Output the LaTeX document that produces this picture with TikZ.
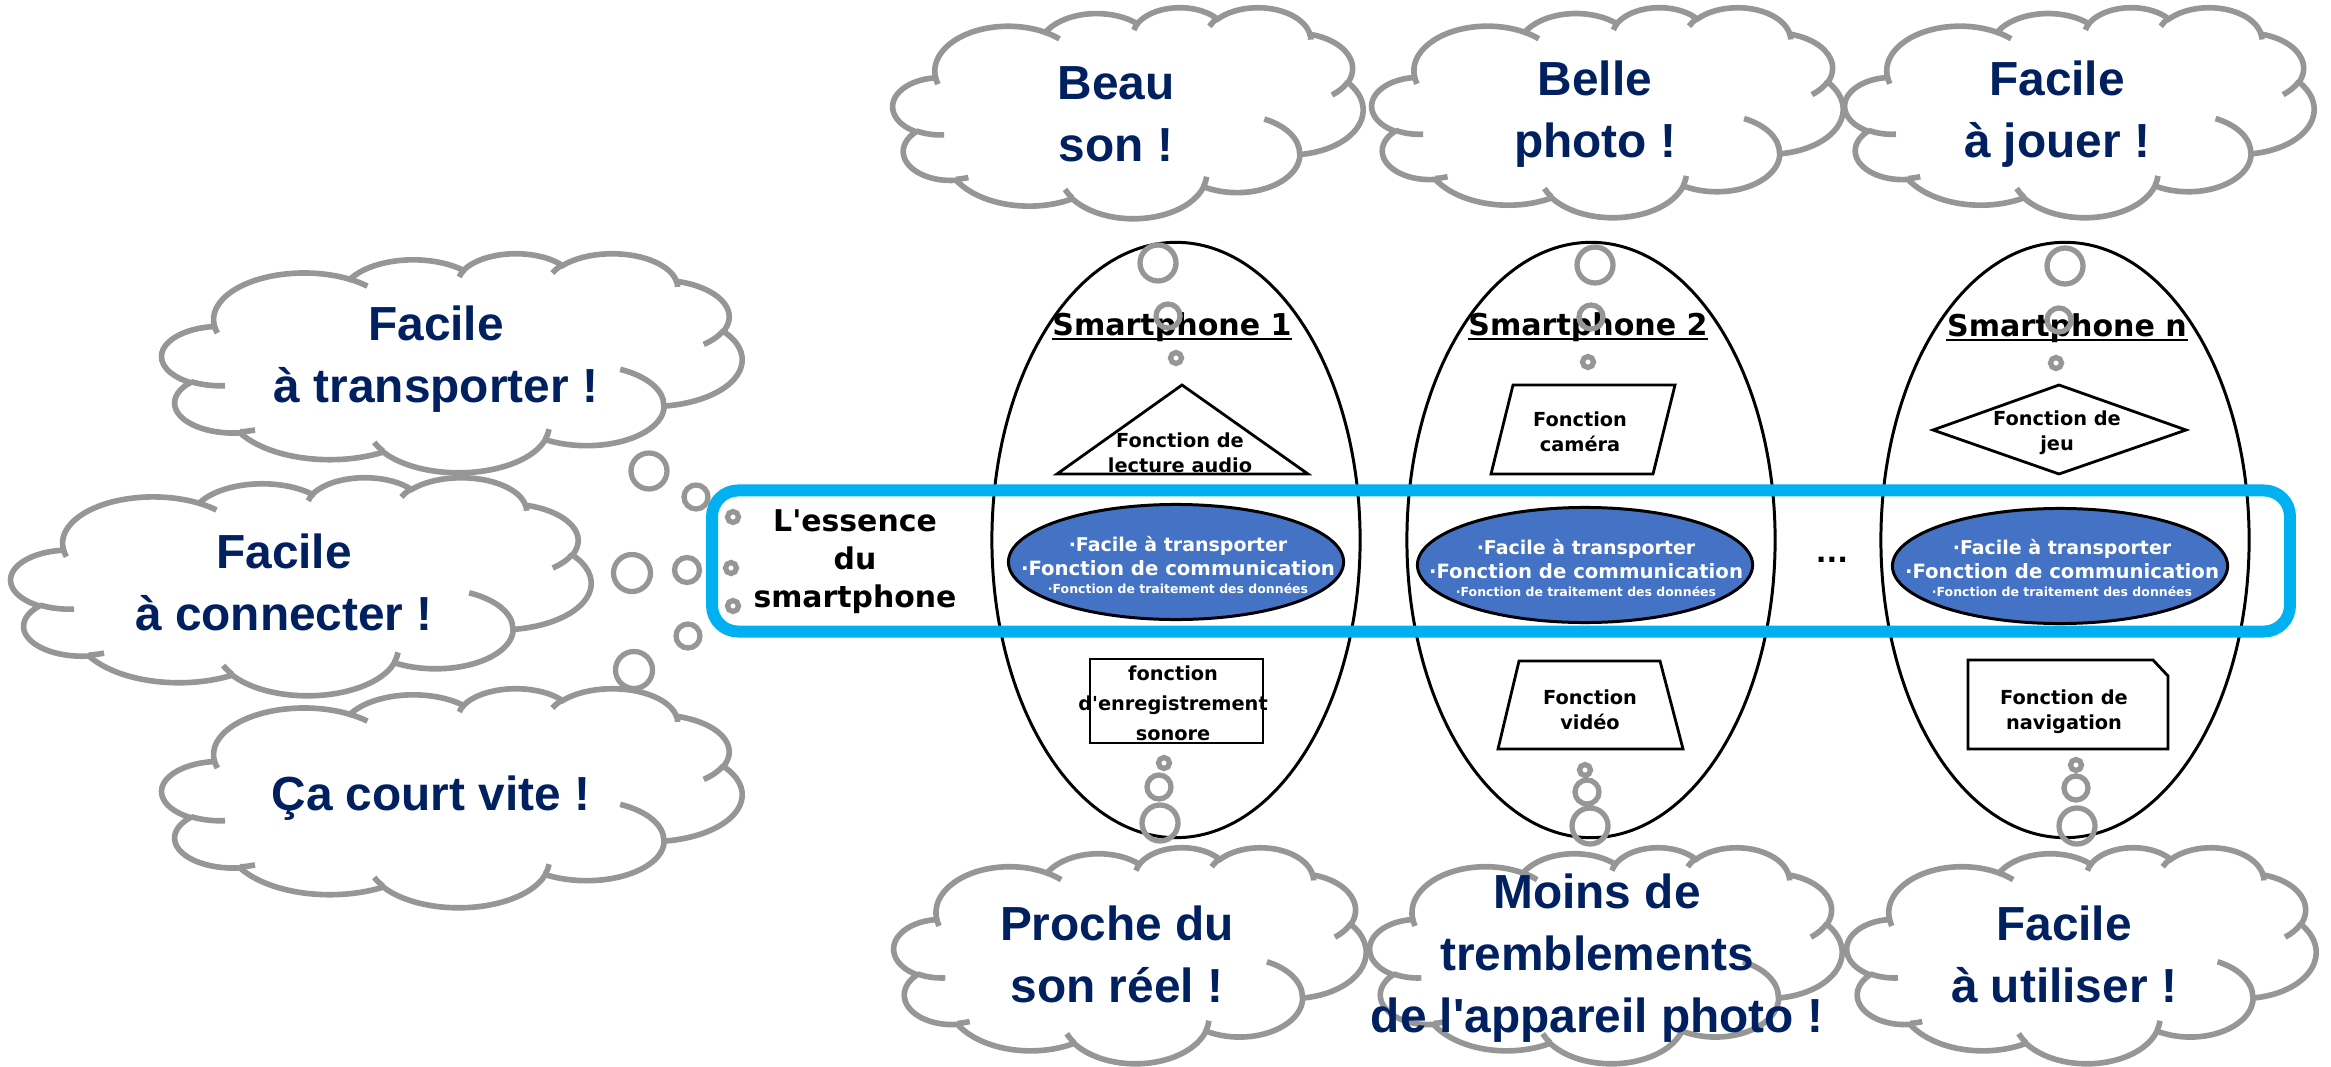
\documentclass[tikz,border=0pt]{standalone}
\usepackage{fontspec}
\setmainfont{DejaVu Sans}[Ligatures=TeXOff]
\newfontfamily\cloudfont{Liberation Sans}
\usepackage{tikz}
\usetikzlibrary{shapes.geometric,positioning}
\definecolor{cloudgray}{HTML}{969696}
\definecolor{navy}{HTML}{002060}
\definecolor{coreblue}{HTML}{4472C4}
\definecolor{skyblue}{HTML}{00B0F0}

% Office-like cloud, drawn in a 432 x 432 box and stretched to w x h
\tikzset{
  cloudshape/.style={draw=cloudgray, line width=1.6pt, fill=white},
  cloudstroke/.style={draw=cloudgray, line width=1.6pt},
  pics/pptcloud/.style 2 args={code={
    \pgfmathsetmacro\cloudsx{#1/432}
    \pgfmathsetmacro\cloudsy{#2/432}
    \begin{scope}[xscale=\cloudsx, yscale=\cloudsy]
      \path[cloudshape] (39,143.7)
        arc[start angle=-187.74, delta angle=128.10, x radius=67.53, y radius=91.90]
        arc[start angle=-152.02, delta angle=106.56, x radius=53.33, y radius=72.67]
        arc[start angle=-153.48, delta angle=116.16, x radius=43.65, y radius=59.45]
        arc[start angle=-139.71, delta angle=129.50, x radius=48.57, y radius=65.95]
        arc[start angle=-74.77, delta angle=97.98, x radius=53.33, y radius=72.73]
        arc[start angle=-37.53, delta angle=119.39, x radius=67.75, y radius=92.20]
        arc[start angle=0.46, delta angle=121.52, x radius=57.85, y radius=78.67]
        arc[start angle=16.85, delta angle=129.37, x radius=67.52, y radius=92.15]
        arc[start angle=58.98, delta angle=91.20, x radius=77.20, y radius=105.43]
        arc[start angle=83.31, delta angle=139.78, x radius=43.60, y radius=59.18]
        arc[start angle=120.35, delta angle=143.76, x radius=43.45, y radius=59.45]
        -- cycle;
      \draw[cloudstroke]
        (46.93,261.77) arc[start angle=85.54, delta angle=34.81, x radius=43.45, y radius=59.45]
        (69.28,348.99) arc[start angle=68.23, delta angle=15.08, x radius=43.60, y radius=59.18]
        (164.78,390.90) arc[start angle=146.22, delta angle=12.26, x radius=67.52, y radius=92.15]
        (288.27,347.51) arc[start angle=4.73, delta angle=12.12, x radius=67.52, y radius=92.15]
        (341.29,229.54) arc[start angle=-64.01, delta angle=64.47, x radius=57.85, y radius=78.67]
        (417.98,153.54) arc[start angle=23.21, delta angle=26.43, x radius=53.33, y radius=72.73]
        (383.24,54.26) arc[start angle=-10.21, delta angle=11.03, x radius=48.57, y radius=65.95]
        (290.78,39.52) arc[start angle=-156.29, delta angle=16.58, x radius=48.57, y radius=65.95]
        (221.41,47.20) arc[start angle=-167.72, delta angle=14.24, x radius=43.65, y radius=59.45]
        (140.00,51.92) arc[start angle=-59.64, delta angle=13.90, x radius=67.53, y radius=91.90]
        (41.27,157.89) arc[start angle=163.19, delta angle=9.06, x radius=67.53, y radius=91.90];
    \end{scope}
  }}
}

\begin{document}
\begin{tikzpicture}[
    x=0.01cm, y=-0.01cm,
    phone/.style={ellipse, draw=black, line width=0.85pt, minimum width=3.68cm, minimum height=5.95cm, inner sep=0pt},
    core/.style={ellipse, draw=black, line width=0.85pt, fill=coreblue, minimum width=3.35cm, minimum height=1.15cm, inner sep=0pt},
    coretext/.style={text=white, align=center, inner sep=0pt, font=\bfseries\fontsize{5.6}{6.8}\selectfont},
    func/.style={draw=black, line width=0.8pt},
    functext/.style={align=center, inner sep=0pt, font=\bfseries\fontsize{5.5}{7.1}\selectfont},
    phonetitle/.style={inner sep=0pt, font=\bfseries\fontsize{8.55}{10}\selectfont},
    underline/.style={line width=0.6pt},
    essencebox/.style={rectangle, draw=skyblue, line width=3.4pt, rounded corners=0.26cm, minimum width=15.77cm, minimum height=1.41cm},
    essencetext/.style={align=center, inner sep=0pt, font=\bfseries\fontsize{8.5}{10.8}\selectfont},
    cloudtext/.style={align=center, text=navy, inner sep=0pt, font=\cloudfont\bfseries\fontsize{13.6}{17.6}\selectfont},
    bubble/.style={draw=cloudgray, line width=1.5pt}
]
\useasboundingbox (0,0) rectangle (2331,1067);

% Thought clouds
\pic at (893,7) {pptcloud={470}{211}};
\pic at (1372,7) {pptcloud={471}{210}};
\pic at (1845,7) {pptcloud={469}{210}};
\pic at (162,253) {pptcloud={580}{219}};
\pic at (11,477) {pptcloud={580}{218}};
\pic at (162,688) {pptcloud={580}{219}};
\pic at (894,847) {pptcloud={472}{216}};
\pic at (1370,847) {pptcloud={472}{216}};
\pic at (1847,847) {pptcloud={469}{216}};

% Cloud texts
\node[cloudtext] (beau) at (1116,114) {Beau\\son !};
\node[cloudtext] (belle) at (1595,114) {Belle\\photo !};
\node[cloudtext] (jouer) at (2057,114) {Facile\\à jouer !};
\node[cloudtext] (transp) at (436,359) {Facile\\à transporter !};
\node[cloudtext] (connect) at (284,582) {Facile\\à connecter !};
\node[cloudtext] (court) at (431,798) {Ça court vite !};
\node[cloudtext] (proche) at (1117,954) {Proche du\\son réel !};
\node[cloudtext] (moins) at (1597,958) {Moins de\\tremblements\\de l'appareil photo !};
\node[cloudtext] (utiliser) at (2064,954) {Facile\\à utiliser !};

% Smartphones
\node[phone] (phone1) at (1176,540) {};
\node[phone] (phone2) at (1591,540) {};
\node[phone] (phoneN) at (2065,540) {};
\node[phonetitle] (title1) at (1172,327) {Smartphone 1};
\node[phonetitle] (title2) at (1588,327) {Smartphone 2};
\node[phonetitle] (titleN) at (2067,328) {Smartphone n};
\draw[underline] ([yshift=-1pt]title1.base west) -- ([yshift=-1pt]title1.base east);
\draw[underline] ([yshift=-1pt]title2.base west) -- ([yshift=-1pt]title2.base east);
\draw[underline] ([yshift=-1pt]titleN.base west) -- ([yshift=-1pt]titleN.base east);

% Functions of each smartphone
\draw[func] (1057,474) -- (1182,385) -- (1308,474) -- cycle;
\node[functext] (lecture) at (1180,453) {Fonction de\\lecture audio};
\draw[func] (1090,659) rectangle (1263,743);
\node[functext, font=\bfseries\fontsize{5.5}{8.5}\selectfont] (enreg) at (1173,703) {fonction\\d'enregistrement\\sonore};
\draw[func] (1513,385) -- (1675,385) -- (1653,474) -- (1491,474) -- cycle;
\node[functext] (camera) at (1580,432) {Fonction\\caméra};
\draw[func] (1519,661) -- (1660,661) -- (1683,749) -- (1498,749) -- cycle;
\node[functext] (video) at (1590,710) {Fonction\\vidéo};
\draw[func] (1933,430) -- (2059,385) -- (2186,430) -- (2059,474) -- cycle;
\node[functext] (jeu) at (2057,433) {Fonction de\\jeu};
\draw[func] (1968,660) -- (2153,660) -- (2168,676) -- (2168,749) -- (1968,749) -- cycle;
\node[functext] (navig) at (2064,712) {Fonction de\\navigation};

% Essence of the smartphone
\node[essencebox] (essence) at (1501,561) {};
\node[essencetext] (essencetxt) at (855,562) {L'essence\\du\\smartphone};
\node[core] (core1) at (1176,562) {};
\node[coretext] (core1txt) at (1178,565) {{\fontsize{5.4}{6.8}\selectfont ·Facile à transporter}\\·Fonction de communication\\[-1.5pt]{\fontsize{3.55}{6.8}\selectfont ·Fonction de traitement des données}};
\node[core] (core2) at (1585,565) {};
\node[coretext] (core2txt) at (1586,568) {{\fontsize{5.4}{6.8}\selectfont ·Facile à transporter}\\·Fonction de communication\\[-1.5pt]{\fontsize{3.55}{6.8}\selectfont ·Fonction de traitement des données}};
\node[core] (coreN) at (2060,566) {};
\node[coretext] (coreNtxt) at (2062,568) {{\fontsize{5.4}{6.8}\selectfont ·Facile à transporter}\\·Fonction de communication\\[-1.5pt]{\fontsize{3.55}{6.8}\selectfont ·Fonction de traitement des données}};
\node[inner sep=0pt, font=\bfseries\fontsize{8}{9}\selectfont] (dots) at (1832,560) {...};

% Thought bubbles
\draw[bubble] (1158,263) circle[radius=18] (1168,316) circle[radius=12] (1176,358) circle[radius=5.5];
\draw[bubble] (1595,265) circle[radius=18] (1591,317) circle[radius=12] (1588,362) circle[radius=5.5];
\draw[bubble] (2065,266) circle[radius=18] (2059,320) circle[radius=12] (2056,363) circle[radius=5.5];
\draw[bubble] (1164,763) circle[radius=5.5] (1159,787) circle[radius=12] (1160,823) circle[radius=18];
\draw[bubble] (1585,770) circle[radius=5.5] (1587,792) circle[radius=12] (1590,826) circle[radius=18];
\draw[bubble] (2076,765) circle[radius=5.5] (2076,788) circle[radius=12] (2077,826) circle[radius=18];
\draw[bubble] (649,471) circle[radius=18] (696,497) circle[radius=12] (733,517) circle[radius=5.5];
\draw[bubble] (632,573) circle[radius=18.5] (687,570) circle[radius=12.5] (731,568) circle[radius=5.5];
\draw[bubble] (634,670) circle[radius=18.5] (688,636) circle[radius=12] (733,606) circle[radius=5.5];

\end{tikzpicture}
\end{document}
